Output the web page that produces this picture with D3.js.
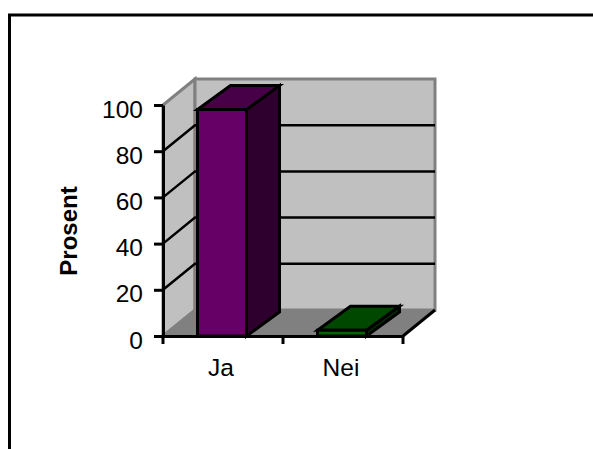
<!DOCTYPE html>
<html><head><meta charset="utf-8">
<script src="https://cdn.jsdelivr.net/npm/d3@7"></script>
<style>html,body{margin:0;padding:0;background:#fff}svg{display:block}text{font-family:"Liberation Sans",Arial,sans-serif;fill:#000}</style>
</head><body><svg id="c" width="593" height="449"></svg>
<script>
const categories = ["Ja", "Nei"];
const values = [98, 2.5];
const yTicks = [0, 20, 40, 60, 80, 100];
const barColors = [["#660066","#470047","#2e002e"],["#006600","#004700","#002e00"]];
const yTitle = "Prosent";

const svg = d3.select("#c");
const y = d3.scaleLinear().domain([0,100]).range([336,105]);
const x = d3.scaleBand().domain(categories).range([163,403]);
const dep = {x:32, y:-26};
const line = d3.line();
const poly = (pts,fill,stroke,sw)=>svg.append("path").attr("d",line(pts)+"Z").attr("fill",fill).attr("stroke",stroke||"none").attr("stroke-width",sw||0).attr("stroke-linejoin","miter");

// frame (open on the right)
svg.append("path").attr("d",line([[9.5,449],[9.5,15],[593,15]])).attr("fill","none").attr("stroke","#000").attr("stroke-width",3);

const x0=x.range()[0], x1=x.range()[1], yb=y(0), yt=y(100);
// walls
poly([[x0,yb],[x0+dep.x,yb+dep.y],[x0+dep.x,yt+dep.y],[x0,yt]],"#c0c0c0","#808080",3);
poly([[x0+dep.x,yb+dep.y],[x1+dep.x,yb+dep.y],[x1+dep.x,yt+dep.y],[x0+dep.x,yt+dep.y]],"#c0c0c0","#808080",3);
poly([[x0,yb],[x1,yb],[x1+dep.x,yb+dep.y],[x0+dep.x,yb+dep.y]],"#808080","none");
// gridlines
yTicks.slice(1,-1).forEach(t=>{
  svg.append("path").attr("d",line([[x0,y(t)],[x0+dep.x,y(t)+dep.y],[x1+dep.x,y(t)+dep.y]])).attr("fill","none").attr("stroke","#000").attr("stroke-width",2.5);
});
svg.append("path").attr("d",line([[x1,yb],[x1+dep.x,yb+dep.y]])).attr("stroke","#000").attr("stroke-width",3).attr("fill","none");

// bars
const bw = 49, bd={x:33,y:-24}, inset=34.5;
categories.forEach((c,i)=>{
  const l=x(c)+inset, r=l+bw, t=y(values[i]), b=yb;
  poly([[r,b],[r+bd.x,b+bd.y],[r+bd.x,t+bd.y],[r,t]],barColors[i][2],"#000",3);
  poly([[l,t],[r,t],[r+bd.x,t+bd.y],[l+bd.x,t+bd.y]],barColors[i][1],"#000",3);
  poly([[l,b],[r,b],[r,t],[l,t]],barColors[i][0],"#000",3);
});

// axes
const gy = svg.append("g").attr("transform",`translate(${x0},0)`).call(d3.axisLeft(y).tickValues(yTicks).tickSize(9).tickPadding(11).tickSizeOuter(0));
const gx = svg.append("g").attr("transform",`translate(0,${yb})`).call(d3.axisBottom(x).tickValues([]).tickSizeOuter(0));
[x0,x0+x.bandwidth(),x1].forEach(px=>svg.append("line").attr("x1",px).attr("x2",px).attr("y1",yb).attr("y2",yb+8).attr("stroke","#000").attr("stroke-width",3));
[gy,gx].forEach(g=>{g.selectAll("path.domain").attr("stroke","#000").attr("stroke-width",3);g.selectAll("line").attr("stroke","#000").attr("stroke-width",3);});
gy.selectAll("text").attr("dy","0.68em").attr("y",-4.5).style("font-size","24.5px").style("font-family",'"Liberation Sans",Arial,sans-serif');
categories.forEach(c=>svg.append("text").attr("x",x(c)+x.bandwidth()/2-2).attr("y",376).attr("text-anchor","middle").style("font-size","24.5px").text(c));
svg.append("text").attr("transform","translate(77,231) rotate(-90)").attr("text-anchor","middle").style("font-size","24px").style("font-weight","bold").text(yTitle);
</script></body></html>
